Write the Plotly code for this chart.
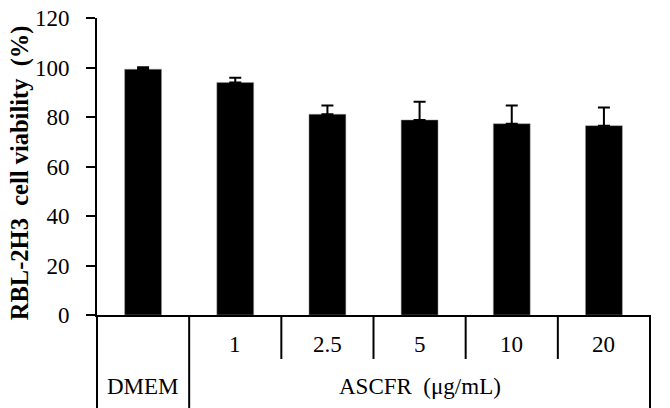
import plotly.graph_objects as go

categories = ["DMEM", "1", "2.5", "5", "10", "20"]
viability = [99.3, 93.9, 81.1, 78.8, 77.3, 76.5]
error_up = [0.8, 2.0, 3.5, 7.4, 7.3, 7.3]
group_label = "ASCFR  (\u03bcg/mL)"
y_title = "RBL-2H3  cell viability  (%)"
y_ticks = [0, 20, 40, 60, 80, 100, 120]

FONT = "Liberation Serif, Times New Roman, serif"
FS = 23
n = len(categories)
xpos = list(range(n))

fig = go.Figure()
fig.add_trace(go.Bar(
    x=xpos, y=viability, width=0.4,
    marker=dict(color="black", line=dict(color="#999", width=0.5)),
    error_y=dict(type="data", symmetric=False, array=error_up,
                 arrayminus=[0] * n, color="black", thickness=2, width=6),
    showlegend=False,
))

# category table lines below the axis
shapes = []
for i in range(n + 1):
    xd = i / n
    y0 = -0.313 if i in (0, 1, n) else -0.148
    shapes.append(dict(type="line", xref="x domain", yref="paper",
                       x0=xd, x1=xd, y0=0, y1=y0,
                       line=dict(color="black", width=2)))

annotations = []
for i, c in enumerate(categories):
    yy = -0.242 if i == 0 else -0.101
    annotations.append(dict(x=i, y=yy, xref="x", yref="paper", text=c,
                            xanchor="center", yanchor="middle",
                            showarrow=False, font=dict(family=FONT, size=FS, color="black")))
annotations.append(dict(x=(1 + n - 1) / 2, y=-0.242, xref="x", yref="paper", text=group_label,
                        xanchor="center", yanchor="middle",
                        showarrow=False, font=dict(family=FONT, size=FS, color="black")))
annotations.append(dict(x=-0.139, y=0.478, xref="paper", yref="paper", text="<b>" + y_title + "</b>",
                        xanchor="center", yanchor="middle",
                        textangle=-90, showarrow=False,
                        font=dict(family=FONT, size=24.5, color="black")))

fig.update_layout(
    width=670, height=408,
    margin=dict(l=97, r=20, t=18, b=93, autoexpand=False),
    paper_bgcolor="white", plot_bgcolor="white",
    font=dict(family=FONT, color="black"),
    xaxis=dict(range=[-0.5, n - 0.5], showticklabels=False, ticks="",
               showline=True, linecolor="black", linewidth=2, showgrid=False, zeroline=False,
               automargin=False),
    yaxis=dict(range=[0, 120], tickvals=y_ticks, ticks="outside", ticklen=9, tickwidth=2,
               tickcolor="black", showline=True, linecolor="black", linewidth=2,
               showgrid=False, zeroline=False, ticklabelstandoff=12,
               ticklabeloverflow="allow", automargin=False,
               tickfont=dict(family=FONT, size=FS, color="black")),
    shapes=shapes,
    annotations=annotations,
)

# remove the default 8px page margin so the figure fills the window exactly
fig.write_html("out.html", config={"displayModeBar": False},
               post_script="document.body.style.margin='0px';")
